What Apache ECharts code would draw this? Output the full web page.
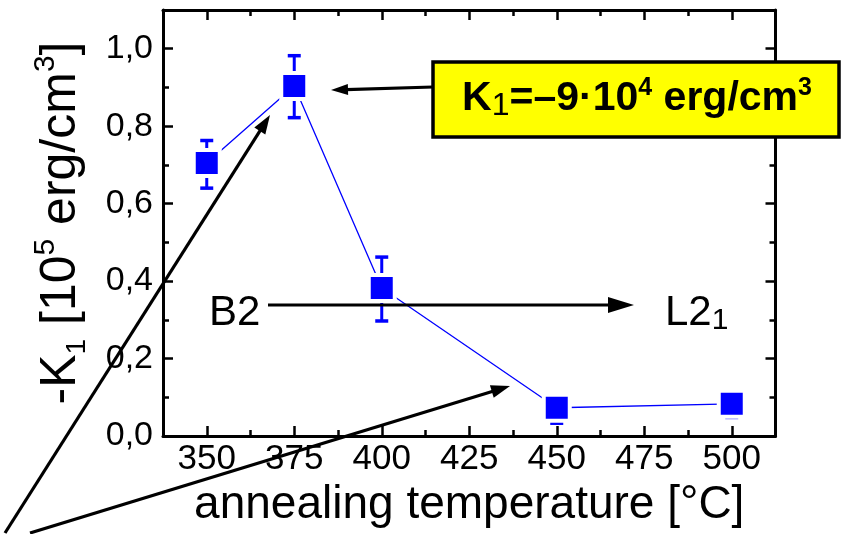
<!DOCTYPE html>
<html>
<head>
<meta charset="utf-8">
<script src="https://cdn.jsdelivr.net/npm/echarts@6/dist/echarts.min.js"></script>
<style>
html, body { margin: 0; padding: 0; background: #fff; }
#chart { width: 848px; height: 534px; }
</style>
</head>
<body>
<div id="chart"></div>
<script>
// tick positions
var tempTicks = [350, 375, 400, 425, 450, 475, 500];
var tempMinorTicks = [362.5, 387.5, 412.5, 437.5, 462.5, 487.5];
var kTicks = [0, 0.2, 0.4, 0.6, 0.8, 1.0];
var kMinorTicks = [0.1, 0.3, 0.5, 0.7, 0.9];

// measured points, -K1 in 10^5 erg/cm^3
var temps = [350, 375, 400, 450, 500];
var k1 = [0.705, 0.904, 0.382, 0.073, 0.083];
var errLow = [0.065, 0.082, 0.085, 0.04, 0.035];
var errHigh = [0.058, 0.078, 0.08, 0.02, 0.02];

var FONT = '"Liberation Sans", Arial, sans-serif';
var BLUE = '#0000ff';
var X_MIN = 337.5, X_MAX = 512.5, Y_MIN = 0, Y_MAX = 1.1;

function fmtK(v) {
    return v.toFixed(1).replace('.', ',');
}

// one axis of the box frame; the minor ones only carry short ticks
function xAx(pos, ticks, len, main) {
    return {
        type: 'value', position: pos, min: X_MIN, max: X_MAX,
        axisLine: { show: main, onZero: false, lineStyle: { color: '#000', width: 3 } },
        axisTick: { inside: true, length: len, customValues: ticks, lineStyle: { color: '#000', width: 2.5 } },
        axisLabel: { show: false },
        splitLine: { show: false }
    };
}
function yAx(pos, ticks, len, main) {
    return {
        type: 'value', position: pos, min: Y_MIN, max: Y_MAX,
        axisLine: { show: main, onZero: false, lineStyle: { color: '#000', width: 3 } },
        axisTick: { inside: true, length: len, customValues: ticks, lineStyle: { color: '#000', width: 2.5 } },
        axisLabel: { show: false },
        splitLine: { show: false }
    };
}

function arrow(x1, y1, x2, y2, headLen, headW) {
    var dx = x2 - x1, dy = y2 - y1;
    var d = Math.sqrt(dx * dx + dy * dy);
    var ux = dx / d, uy = dy / d;
    var bx = x2 - ux * headLen, by = y2 - uy * headLen;
    var px = -uy * headW / 2, py = ux * headW / 2;
    return [
        { type: 'line', z: 100, shape: { x1: x1, y1: y1, x2: bx + ux * 2, y2: by + uy * 2 },
          style: { stroke: '#000', lineWidth: 3.2 } },
        { type: 'polygon', z: 100, shape: { points: [[x2, y2], [bx + px, by + py], [bx - px, by - py]] },
          style: { fill: '#000' } }
    ];
}

var chart = echarts.init(document.getElementById('chart'));

var xMain = xAx('bottom', tempTicks, 10, true);
xMain.axisLabel = {
    show: true, customValues: tempTicks, fontSize: 35, fontFamily: FONT, color: '#000', margin: 6
};
xMain.name = 'annealing temperature [°C]';
xMain.nameLocation = 'middle';
xMain.nameGap = 45;
xMain.nameTextStyle = { fontSize: 46, fontFamily: FONT, color: '#000' };

var yMain = yAx('left', kTicks, 10, true);
yMain.axisLabel = {
    show: true, customValues: kTicks, fontSize: 34, fontFamily: FONT, color: '#000', margin: 10,
    formatter: fmtK
};
yMain.name = '{m|-K}{s|1}{m| [10}{p|5}{m| erg/cm}{p|3}{m|]}';
yMain.nameLocation = 'middle';
yMain.nameGap = 72;
yMain.nameTextStyle = {
    color: '#000',
    rich: {
        m: { fontSize: 50, fontFamily: FONT, color: '#000', lineHeight: 60 },
        s: { fontSize: 28, fontFamily: FONT, color: '#000', lineHeight: 30, verticalAlign: 'bottom' },
        p: { fontSize: 30, fontFamily: FONT, color: '#000', lineHeight: 24, verticalAlign: 'top' }
    }
};

var errData = [];
var lineData = [];
for (var i = 0; i < temps.length; i++) {
    errData.push([temps[i], k1[i], k1[i] - errLow[i], k1[i] + errHigh[i]]);
    lineData.push([temps[i], k1[i]]);
}

var graphics = [];
graphics = graphics.concat(arrow(5, 533, 270, 115, 19, 13));
graphics = graphics.concat(arrow(30, 533, 510, 386, 19, 13));
graphics = graphics.concat(arrow(268, 305, 634, 305, 26, 16));
graphics = graphics.concat(arrow(433, 87, 331, 90, 17, 11));
graphics.push({
    type: 'text', z: 100,
    style: { text: 'B2', x: 209, y: 313, align: 'left', verticalAlign: 'middle',
             fontSize: 42, fontFamily: FONT, fill: '#000' }
});
graphics.push({
    type: 'text', z: 100,
    style: {
        text: '{m|L2}{s|1}', x: 665, y: 313, align: 'left', verticalAlign: 'middle',
        rich: {
            m: { fontSize: 42, fontFamily: FONT, fill: '#000', lineHeight: 46 },
            s: { fontSize: 30, fontFamily: FONT, fill: '#000', lineHeight: 20, verticalAlign: 'bottom' }
        }
    }
});
graphics.push({
    type: 'rect', z: 100,
    shape: { x: 433, y: 62, width: 406, height: 75 },
    style: { fill: '#ffff00', stroke: '#000', lineWidth: 3.5 }
});
graphics.push({
    type: 'text', z: 101,
    style: {
        text: '{b|K}{s|1}{b|=–9·10}{p|4}{b| erg/cm}{p|3}', x: 637, y: 99,
        align: 'center', verticalAlign: 'middle',
        rich: {
            b: { fontSize: 41, fontWeight: 'bold', fontFamily: FONT, fill: '#000', lineHeight: 46 },
            s: { fontSize: 32, fontFamily: FONT, fill: '#000', lineHeight: 18, verticalAlign: 'bottom' },
            p: { fontSize: 25, fontWeight: 'bold', fontFamily: FONT, fill: '#000', lineHeight: 30, verticalAlign: 'top' }
        }
    }
});

var option = {
    backgroundColor: '#fff',
    animation: false,
    grid: { left: 163, right: 72.5, top: 10, bottom: 98, containLabel: false, outerBoundsMode: 'none' },
    xAxis: [
        xMain,
        xAx('bottom', tempMinorTicks, 6, false),
        xAx('top', tempTicks, 10, true),
        xAx('top', tempMinorTicks, 6, false)
    ],
    yAxis: [
        yMain,
        yAx('left', kMinorTicks, 6, false),
        yAx('right', kTicks, 10, true),
        yAx('right', kMinorTicks, 6, false)
    ],
    series: [
        {
            type: 'custom',
            z: 1,
            data: errData,
            encode: { x: 0, y: 1 },
            renderItem: function (params, api) {
                var x = api.value(0);
                var pHi = api.coord([x, api.value(3)]);
                var pLo = api.coord([x, api.value(2)]);
                var cw = 6.5;
                var st = { stroke: BLUE, lineWidth: 3 };
                return {
                    type: 'group',
                    children: [
                        { type: 'line', shape: { x1: pHi[0], y1: pHi[1], x2: pLo[0], y2: pLo[1] }, style: st },
                        { type: 'line', shape: { x1: pHi[0] - cw, y1: pHi[1], x2: pHi[0] + cw, y2: pHi[1] },
                          style: { stroke: BLUE, lineWidth: 3.5 } },
                        { type: 'line', shape: { x1: pLo[0] - cw, y1: pLo[1], x2: pLo[0] + cw, y2: pLo[1] },
                          style: { stroke: BLUE, lineWidth: 3.5 } }
                    ]
                };
            }
        },
        {
            type: 'line',
            z: 2,
            data: lineData,
            symbol: 'rect',
            symbolSize: 26,
            itemStyle: { color: BLUE, borderColor: '#fff', borderWidth: 4 },
            lineStyle: { color: BLUE, width: 1.3 },
            clip: false
        }
    ],
    graphic: graphics
};
chart.setOption(option);
</script>
</body>
</html>
